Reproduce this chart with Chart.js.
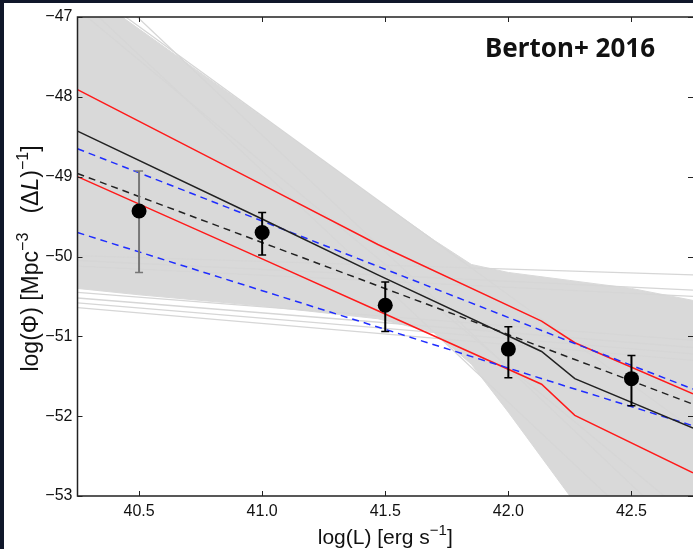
<!DOCTYPE html>
<html>
<head>
<meta charset="utf-8">
<script src="https://cdn.jsdelivr.net/npm/chart.js@4/dist/chart.umd.min.js"></script>
<style>
  html, body { margin: 0; padding: 0; background: #fff; }
  canvas { display: block; }
</style>
</head>
<body>
<canvas id="lfChart" width="693" height="549"></canvas>
<script>
// binned luminosity function
const lumBins = [40.5, 41.0, 41.5, 42.0, 42.5];
const logPhi = [-49.43, -49.70, -50.61, -51.16, -51.53];
const phiHigh = [-48.93, -49.45, -50.32, -50.88, -51.24];
const phiLow = [-50.20, -49.98, -50.94, -51.52, -51.87];

// best fit (black solid) and its band (red)
const fitL = [40.25, 41.0, 41.47, 42.135, 42.27, 42.75];
const fitMid = [-48.43, -49.53, -50.23, -51.19, -51.53, -52.15];
const fitHigh = [-47.91, -49.10, -49.85, -50.81, -51.08, -51.72];
const fitLow = [-49.00, -50.03, -50.68, -51.60, -51.99, -52.71];

// second fit (black dashed) and its band (blue dashed)
const altL = [40.25, 42.27, 42.75];
const altMid = [-48.96, -51.29, -51.85];
const altHigh = [-48.65, -51.09, -51.66];
const altLow = [-49.70, -51.66, -52.12];

// grey cloud of sampled fits: dense part as a band, loose strands as lines
const bandL = [40.25, 40.5, 41.0, 41.47, 41.7, 41.85, 42.0, 42.25, 42.5, 42.75];
const bandTop = [-46.6, -47.15, -48.25, -49.3, -49.8, -50.1, -50.2, -50.3, -50.4, -50.55];
const bandBottom = [-50.4, -50.48, -50.62, -50.78, -50.95, -51.35, -51.95, -53.0, -53.9, -54.8];
const strandEnds = [40.25, 42.75];
const strandLeft = [-46.29, -46.56, -46.75, -46.9, -49.99, -50.05, -50.12, -50.45, -50.52, -50.58, -50.64];
const strandRight = [-53.59, -52.16, -54.0, -53.3, -50.23, -50.42, -50.5, -51.05, -51.14, -51.22, -51.3];

const xTicks = [40.5, 41.0, 41.5, 42.0, 42.5];
const yTicks = [-47, -48, -49, -50, -51, -52, -53];

// axis labels as pieces (sup = superscript, it = italic)
const xLabel = [{ t: 'log(L) [erg s' }, { t: '\u22121', sup: true }, { t: ']' }];
const yLabel = [
  { t: 'log(\u03A6) [Mpc' }, { t: '\u22123', sup: true }, { t: '   (\u0394' },
  { t: 'L', it: true }, { t: ')' }, { t: '\u22121', sup: true }, { t: ']' },
];
const panelTitle = 'Berton+ 2016';

function pts(xs, ys) {
  return xs.map((x, i) => ({ x: x, y: ys[i] }));
}

function lineSet(xs, ys, color, dash) {
  return {
    data: pts(xs, ys),
    borderColor: color,
    borderWidth: 1.5,
    borderDash: dash || [],
    pointRadius: 0,
    fill: false,
  };
}

let datasets = [];

datasets.push({
  data: pts(bandL, bandTop),
  borderColor: '#d9d9d9',
  borderWidth: 1,
  backgroundColor: '#d9d9d9',
  pointRadius: 0,
  fill: '+1',
});
datasets.push({
  data: pts(bandL, bandBottom),
  borderColor: '#d9d9d9',
  borderWidth: 1,
  pointRadius: 0,
  fill: false,
});

for (let i = 0; i < strandLeft.length; i++) {
  let s = lineSet(strandEnds, [strandLeft[i], strandRight[i]], '#d6d6d6');
  s.borderWidth = 1.3;
  datasets.push(s);
}

datasets.push(lineSet(fitL, fitHigh, '#ff1a1a'));
datasets.push(lineSet(fitL, fitLow, '#ff1a1a'));
datasets.push(lineSet(altL, altHigh, '#1f2dff', [7, 5]));
datasets.push(lineSet(altL, altLow, '#1f2dff', [7, 5]));
datasets.push(lineSet(altL, altMid, '#222', [7, 5]));
datasets.push(lineSet(fitL, fitMid, '#222'));

for (let i = 0; i < lumBins.length; i++) {
  let col = i === 0 ? '#777' : '#000';
  datasets.push({
    data: [{ x: lumBins[i], y: phiLow[i] }, { x: lumBins[i], y: phiHigh[i] }],
    borderColor: col,
    borderWidth: 2,
    pointStyle: 'line',
    pointRadius: 4,
    pointBorderWidth: 1.5,
    pointBorderColor: col,
    fill: false,
  });
}

datasets.push({
  data: pts(lumBins, logPhi),
  showLine: false,
  pointRadius: 7.5,
  pointBorderWidth: 0,
  pointBackgroundColor: '#000',
  pointBorderColor: '#000',
});

// first in the list is drawn first (underneath)
datasets.forEach((d, i) => { d.order = datasets.length - i; });

// draws a label made of pieces, centred on the current origin
function drawPieces(ctx, pieces, size) {
  const supSize = Math.round(size * 0.7);
  const fontOf = p => (p.it ? 'italic ' : '') + (p.sup ? supSize : size) + 'px "Liberation Sans"';
  let total = 0;
  pieces.forEach(p => {
    ctx.font = fontOf(p);
    p.w = ctx.measureText(p.t).width;
    total += p.w;
  });
  let x = -total / 2;
  pieces.forEach(p => {
    ctx.font = fontOf(p);
    ctx.fillText(p.t, x, p.sup ? -size * 0.42 : 0);
    x += p.w;
  });
}

const framePlugin = {
  id: 'frame',
  beforeDraw(chart) {
    const ctx = chart.ctx;
    ctx.save();
    ctx.fillStyle = '#fff';
    ctx.fillRect(0, 0, chart.width, chart.height);
    ctx.fillStyle = '#10172a';
    ctx.fillRect(0, 0, chart.width, 3);
    ctx.fillRect(0, 0, 4, chart.height);
    ctx.restore();
  },
  afterDraw(chart) {
    const { ctx, chartArea: a, scales } = chart;
    const x = scales.x, y = scales.y;
    ctx.save();
    ctx.strokeStyle = '#222';
    ctx.lineWidth = 1.5;
    ctx.beginPath();
    ctx.moveTo(a.right, a.top);
    ctx.lineTo(a.left, a.top);
    ctx.lineTo(a.left, a.bottom);
    ctx.lineTo(a.right, a.bottom);
    ctx.stroke();

    ctx.lineWidth = 1;
    ctx.beginPath();
    x.ticks.forEach(t => {
      const px = Math.round(x.getPixelForValue(t.value)) + 0.5;
      ctx.moveTo(px, a.bottom); ctx.lineTo(px, a.bottom - 5);
      ctx.moveTo(px, a.top); ctx.lineTo(px, a.top + 5);
    });
    y.ticks.forEach(t => {
      const py = Math.round(y.getPixelForValue(t.value)) + 0.5;
      ctx.moveTo(a.left, py); ctx.lineTo(a.left + 5, py);
      ctx.moveTo(a.right, py); ctx.lineTo(a.right - 5, py);
    });
    ctx.stroke();

    ctx.fillStyle = '#111';
    ctx.textBaseline = 'alphabetic';
    ctx.textAlign = 'left';

    // axis titles
    ctx.save();
    ctx.translate((a.left + a.right) / 2, x.bottom - 5);
    drawPieces(ctx, xLabel, 21);
    ctx.restore();

    ctx.save();
    ctx.translate(38, (a.top + a.bottom) / 2 + 2);
    ctx.rotate(-Math.PI / 2);
    drawPieces(ctx, yLabel, 23);
    ctx.restore();

    ctx.font = 'bold 26px "Noto Sans"';
    ctx.textAlign = 'right';
    ctx.fillText(panelTitle, a.right - 38, a.top + 40);
    ctx.restore();
  }
};

const tickFont = { family: 'Liberation Sans', size: 16 };

const config = {
  type: 'line',
  data: { datasets },
  options: {
    responsive: false,
    animation: false,
    devicePixelRatio: 1,
    events: [],
    layout: { autoPadding: false, padding: { top: 17, right: 0, bottom: 0, left: 0 } },
    plugins: { legend: { display: false }, tooltip: { enabled: false } },
    scales: {
      x: {
        type: 'linear',
        min: 40.25,
        max: 42.75,
        grid: { display: false, drawTicks: false },
        border: { display: false },
        afterBuildTicks: s => { s.ticks = xTicks.map(v => ({ value: v })); },
        afterFit: s => { s.height = 53; s.paddingLeft = 0; s.paddingRight = 0; },
        ticks: {
          font: tickFont,
          color: '#111',
          padding: 6,
          maxRotation: 0,
          callback: v => Number(v).toFixed(1),
        },
      },
      y: {
        type: 'linear',
        min: -53,
        max: -47,
        grid: { display: false, drawTicks: false },
        border: { display: false },
        afterBuildTicks: s => { s.ticks = yTicks.map(v => ({ value: v })); },
        afterFit: s => { s.width = 77.5; s.paddingTop = 0; s.paddingBottom = 0; },
        ticks: {
          font: tickFont,
          color: '#111',
          padding: 5,
          callback: v => '\u2212' + Math.abs(v),
        },
      },
    },
  },
  plugins: [framePlugin],
};

const myChart = new Chart(document.querySelector('#lfChart'), config);
</script>
</body>
</html>
